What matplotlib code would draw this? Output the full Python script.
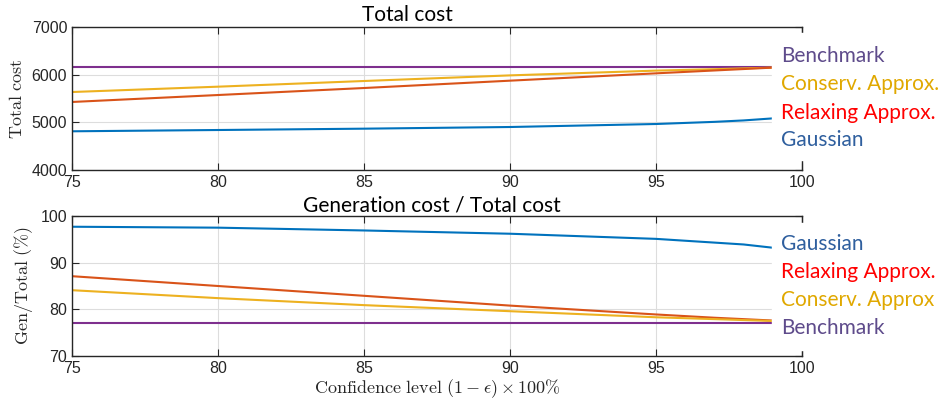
import matplotlib
matplotlib.use("Agg")
from matplotlib import pyplot as plt
from matplotlib.patches import Rectangle

# Confidence levels (%)
conf = [75, 80, 85, 90, 95, 97, 98, 99]

# Total cost
total_benchmark = [6170, 6170, 6170, 6170, 6170, 6170, 6170, 6170]
total_conserv = [5636, 5748, 5867, 5985, 6085, 6115, 6132, 6148]
total_relax = [5427, 5573, 5720, 5874, 6028, 6088, 6118, 6148]
total_gauss = [4812, 4839, 4867, 4902, 4965, 5010, 5040, 5083]

# Generation cost / total cost (%)
ratio_gauss = [97.7, 97.5, 96.9, 96.2, 95.1, 94.3, 93.9, 93.2]
ratio_relax = [87.1, 85.0, 82.9, 80.8, 78.9, 78.2, 77.9, 77.6]
ratio_conserv = [84.1, 82.4, 80.9, 79.6, 78.3, 77.9, 77.7, 77.5]
ratio_benchmark = [77.1, 77.1, 77.1, 77.1, 77.1, 77.1, 77.1, 77.1]

x_ticks = [75, 80, 85, 90, 95, 100]

# MATLAB default line colours
C_BLUE = "#0072BD"
C_ORANGE = "#D95319"
C_YELLOW = "#EDB120"
C_PURPLE = "#7E2F8E"

plt.rcParams["mathtext.fontset"] = "cm"
W, H = 943, 401
fig = plt.figure(figsize=(W / 100, H / 100), dpi=100)

ax1 = fig.add_axes([72 / W, 1 - 170 / H, 730 / W, 143 / H])
ax2 = fig.add_axes([72 / W, 1 - 356 / H, 730 / W, 140 / H])

ax1.plot(conf, total_benchmark, color=C_PURPLE, lw=1.5)
ax1.plot(conf, total_conserv, color=C_YELLOW, lw=1.5)
ax1.plot(conf, total_relax, color=C_ORANGE, lw=1.5)
ax1.plot(conf, total_gauss, color=C_BLUE, lw=1.5)
ax1.set_ylim(4000, 7000)
ax1.set_yticks([4000, 5000, 6000, 7000])

ax2.plot(conf, ratio_gauss, color=C_BLUE, lw=1.5)
ax2.plot(conf, ratio_relax, color=C_ORANGE, lw=1.5)
ax2.plot(conf, ratio_conserv, color=C_YELLOW, lw=1.5)
ax2.plot(conf, ratio_benchmark, color=C_PURPLE, lw=1.5)
ax2.set_ylim(70, 100)
ax2.set_yticks([70, 80, 90, 100])

for ax in (ax1, ax2):
    ax.set_xlim(75, 100)
    ax.set_xticks(x_ticks)
    ax.grid(True, color="#dddddd", lw=0.8)
    ax.set_axisbelow(True)
    ax.tick_params(direction="in", top=True, right=True, length=5,
                   colors="#262626", labelsize=11.5, labelcolor="#262626")
    for lab in ax.get_xticklabels() + ax.get_yticklabels():
        lab.set_family("Liberation Sans")
    for s in ax.spines.values():
        s.set_color("#262626")
        s.set_linewidth(1.0)

ax1.set_ylabel(r"$\mathrm{Total\ cost}$", fontsize=13, color="#262626", labelpad=4)
ax2.set_ylabel(r"$\mathrm{Gen/Total\ (\%)}$", fontsize=13, color="#262626", labelpad=4)
fig.text(437 / W, 1 - 389 / H, r"$\mathrm{Confidence\ level\ }(1-\epsilon)\times 100\%$",
         fontsize=13, color="#262626", ha="center", va="center")

# titles
fig.text(407 / W, 1 - 15 / H, "Total cost", family="Lato", fontsize=15,
         ha="center", va="center")
fig.text(432 / W, 1 - 205 / H, "Generation cost / Total cost", family="Lato",
         fontsize=15, ha="center", va="center")

# white boxes behind the labels
fig.add_artist(Rectangle((772 / W, 1 - 160 / H), 1 - 772 / W, 127 / H,
                         transform=fig.transFigure, color="white", zorder=3))
fig.add_artist(Rectangle((772 / W, 1 - 350 / H), 1 - 772 / W, 127 / H,
                         transform=fig.transFigure, color="white", zorder=3))

LBL_BENCH = "#5E4B8B"
LBL_CONS = "#E0A800"
LBL_RELAX = "#FF0000"
LBL_GAUSS = "#2F5F9E"

top_labels = [("Benchmark", LBL_BENCH, 56), ("Conserv. Approx.", LBL_CONS, 84),
              ("Relaxing Approx.", LBL_RELAX, 113), ("Gaussian", LBL_GAUSS, 140)]
bot_labels = [("Gaussian", LBL_GAUSS, 244), ("Relaxing Approx.", LBL_RELAX, 272),
              ("Conserv. Approx", LBL_CONS, 300), ("Benchmark", LBL_BENCH, 328)]
for txt, col, yy in top_labels + bot_labels:
    fig.text(781 / W, 1 - yy / H, txt, color=col, family="Lato", fontsize=15,
             ha="left", va="center", zorder=4)

fig.savefig("out.png", dpi=100)
